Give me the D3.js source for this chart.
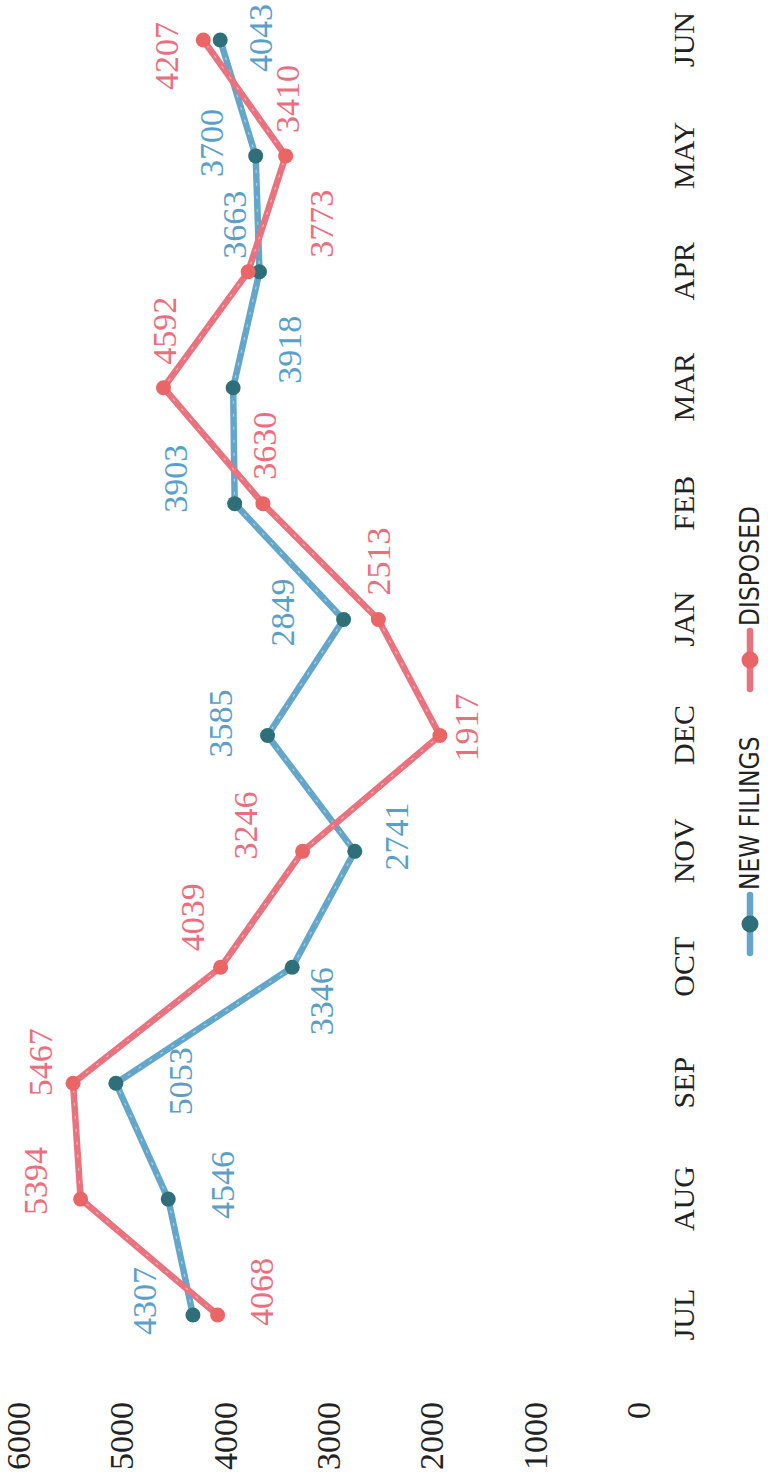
<!DOCTYPE html>
<html>
<head>
<meta charset="utf-8">
<script src="https://cdn.jsdelivr.net/npm/d3@7"></script>
<style>
  html, body { margin: 0; padding: 0; background: #fff; }
  svg { display: block; }
</style>
</head>
<body>
<div id="chart"></div>
<script>
// ---- data ----
const months = ["JUL","AUG","SEP","OCT","NOV","DEC","JAN","FEB","MAR","APR","MAY","JUN"];
const newFilings = [4307, 4546, 5053, 3346, 2741, 3585, 2849, 3903, 3918, 3663, 3700, 4043];
const disposed   = [4068, 5394, 5467, 4039, 3246, 1917, 2513, 3630, 4592, 3773, 3410, 4207];
const valueTicks = [0, 1000, 2000, 3000, 4000, 5000, 6000];
const seriesNames = ["NEW FILINGS", "DISPOSED"];

// ---- layout (label offsets relative to their point, in chart units) ----
const newLabelOffsets = [[14,-49],[14,54],[2,65],[-34,29],[15,42],[12,-47],[7,-61],[25,-59],[38,56],[47,-25],[13,-44],[2,40]];
const dispLabelOffsets = [[23,44],[18,-45],[21,-33],[50,-28],[26,-57],[8,27],[58,0],[58,2],[57,1],[48,73],[57,2],[-16,-37]];

const SW = 768, SH = 1483;        // screen size

const svg = d3.select("#chart").append("svg")
  .attr("width", SW).attr("height", SH);

// the chart is drawn upright, then turned a quarter turn counter-clockwise
const g = svg.append("g").attr("transform", `translate(0,${SH}) rotate(-90)`);

const x = d3.scalePoint().domain(months).range([168, 1443]);
const y = d3.scaleLinear().domain([0, 6000]).range([638, 18]);

const serif = "'Liberation Serif', 'DejaVu Serif', serif";

// value axis labels
const yAxis = d3.axisLeft(y).tickValues(valueTicks).tickSize(0).tickPadding(0).tickFormat(d3.format("d"));
const yg = g.append("g").attr("transform", "translate(81,0)").call(yAxis)
  .attr("font-family", serif).attr("font-size", 34);
yg.select(".domain").remove();
yg.selectAll("text")
  .attr("font-family", serif).attr("font-size", 34).attr("fill", "#222")
  .attr("dy", "0.34em");

// month axis labels
const xAxis = d3.axisBottom(x).tickSize(0).tickPadding(0);
const xg = g.append("g").attr("transform", "translate(0,694)").call(xAxis)
  .attr("font-family", serif).attr("font-size", 30);
xg.select(".domain").remove();
xg.selectAll("text")
  .attr("font-family", serif).attr("font-size", 30).attr("fill", "#222")
  .attr("dy", 0).attr("y", 0);

const series = [
  { name: seriesNames[0], values: newFilings, line: "#64a6c9", dot: "#2e6f79", label: "#5c9fc6", offsets: newLabelOffsets },
  { name: seriesNames[1], values: disposed,   line: "#e8727d", dot: "#ea6565", label: "#e96f7e", offsets: dispLabelOffsets }
];

const line = d3.line().x((d, i) => x(months[i])).y(d => y(d));

series.forEach(s => {
  g.append("path").datum(s.values)
    .attr("d", line).attr("fill", "none")
    .attr("stroke", s.line).attr("stroke-width", 6.5)
    .attr("stroke-linejoin", "round").attr("stroke-linecap", "round");
  g.append("path").datum(s.values)
    .attr("d", line).attr("fill", "none")
    .attr("stroke", "#ffffff").attr("stroke-opacity", 0.45).attr("stroke-width", 1.2)
    .attr("stroke-dasharray", "3 10");
});

series.forEach(s => {
  g.selectAll(null).data(s.values).enter().append("circle")
    .attr("cx", (d, i) => x(months[i])).attr("cy", d => y(d))
    .attr("r", 7.5).attr("fill", s.dot);
});

series.forEach(s => {
  g.selectAll(null).data(s.values).enter().append("text")
    .attr("x", (d, i) => x(months[i]) + s.offsets[i][0])
    .attr("y", (d, i) => y(d) + s.offsets[i][1])
    .attr("text-anchor", "middle").attr("dy", "0.34em")
    .attr("font-family", serif).attr("font-size", 34)
    .attr("fill", s.label)
    .text(d => d);
});

// legend
const legendX = [559, 823];
const legend = g.append("g");
series.forEach((s, i) => {
  const cx = legendX[i], cy = 750;
  legend.append("line")
    .attr("x1", cx - 29).attr("x2", cx + 29).attr("y1", cy).attr("y2", cy)
    .attr("stroke", s.line).attr("stroke-width", 6.5).attr("stroke-linecap", "round");
  legend.append("circle").attr("cx", cx).attr("cy", cy).attr("r", 8.5).attr("fill", s.dot);
  legend.append("text")
    .attr("x", cx + 34).attr("y", cy).attr("dy", "0.36em")
    .attr("font-family", "'DejaVu Sans Condensed', 'DejaVu Sans', sans-serif")
    .attr("font-stretch", "condensed")
    .attr("font-size", 26).attr("fill", "#222")
    .text(s.name);
});
</script>
</body>
</html>
